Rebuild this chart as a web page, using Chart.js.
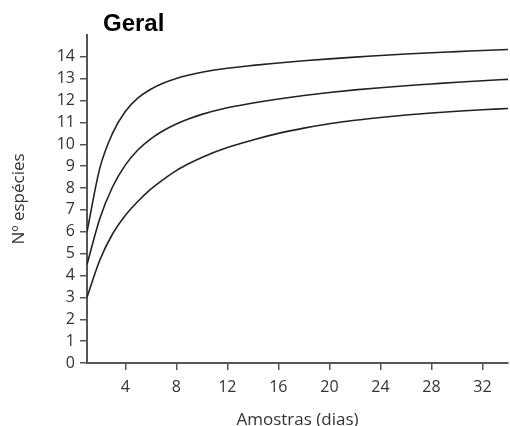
<!DOCTYPE html>
<html>
<head>
<meta charset="utf-8">
<script src="https://cdn.jsdelivr.net/npm/chart.js@4"></script>
<style>
  body { margin: 0; background: #fff; }
</style>
</head>
<body>
<canvas id="chart" width="510" height="426"></canvas>
<script>
// amostras (dias) onde a curva foi lida
const days = [1, 2, 3, 4, 5, 6, 7, 8, 9, 10, 12, 14, 16, 18, 20, 22, 24, 26, 28, 30, 32, 34];
// curva superior, media e inferior
const upper = [6.0, 8.9, 10.5, 11.5, 12.12, 12.52, 12.8, 13.01, 13.17, 13.3, 13.48, 13.61, 13.72, 13.82, 13.91, 13.99, 14.06, 14.13, 14.19, 14.24, 14.29, 14.34];
const middle = [4.5, 6.6, 8.05, 9.05, 9.75, 10.25, 10.63, 10.93, 11.17, 11.37, 11.67, 11.89, 12.07, 12.23, 12.37, 12.49, 12.59, 12.68, 12.76, 12.84, 12.91, 12.97];
const lower = [3.0, 4.7, 5.9, 6.75, 7.4, 7.95, 8.4, 8.8, 9.12, 9.4, 9.85, 10.2, 10.5, 10.74, 10.94, 11.1, 11.23, 11.34, 11.43, 11.51, 11.58, 11.64];

const toPoints = (ys) => days.map((d, i) => ({ x: d, y: ys[i] }));

const lineStyle = {
  borderColor: '#222',
  borderWidth: 1.6,
  pointRadius: 0,
  fill: false,
  cubicInterpolationMode: 'monotone'
};

const axisFont = { family: 'Open Sans', size: 16 };

// desloca o titulo um pouco para a direita do eixo
const titleShift = {
  id: 'titleShift',
  afterLayout(chart) {
    chart.titleBlock.left = chart.chartArea.left + 16;
  }
};

new Chart(document.getElementById('chart'), {
  type: 'line',
  data: {
    datasets: [
      { data: toPoints(upper), ...lineStyle },
      { data: toPoints(middle), ...lineStyle },
      { data: toPoints(lower), ...lineStyle }
    ]
  },
  options: {
    responsive: false,
    animation: false,
    layout: { padding: { top: 0, right: 2, bottom: 0, left: 0 } },
    plugins: {
      legend: { display: false },
      tooltip: { enabled: false },
      title: {
        display: true,
        text: 'Geral',
        align: 'start',
        color: '#000',
        font: { family: 'Liberation Sans', size: 24, weight: 'bold', lineHeight: 1 },
        padding: { top: 12, bottom: -1 }
      }
    },
    scales: {
      x: {
        type: 'linear',
        min: 1,
        max: 34,
        afterFit: (s) => { s.height = 63; },
        grid: { drawOnChartArea: false, tickLength: 7, color: '#555', lineWidth: 1.5 },
        border: { color: '#555', width: 2 },
        ticks: { stepSize: 4, includeBounds: false, color: '#333', font: axisFont, padding: 8 },
        title: {
          display: true,
          text: 'Amostras (dias)',
          color: '#333',
          font: { family: 'Open Sans', size: 17, lineHeight: 1 },
          padding: { top: 0, bottom: -3 }
        }
      },
      y: {
        min: 0,
        max: 15,
        afterFit: (s) => { s.width = 87; },
        afterBuildTicks: (s) => { s.ticks = s.ticks.filter(t => t.value <= 14); },
        grid: { drawOnChartArea: false, tickLength: 7, color: '#555', lineWidth: 1.5 },
        border: { color: '#555', width: 2 },
        ticks: { stepSize: 1, color: '#333', font: axisFont, padding: 5 },
        title: {
          display: true,
          text: 'Nº espécies',
          color: '#333',
          font: { family: 'Open Sans', size: 17, lineHeight: 1 },
          padding: { top: 11, bottom: 0 }
        }
      }
    }
  },
  plugins: [titleShift]
});
</script>
</body>
</html>
